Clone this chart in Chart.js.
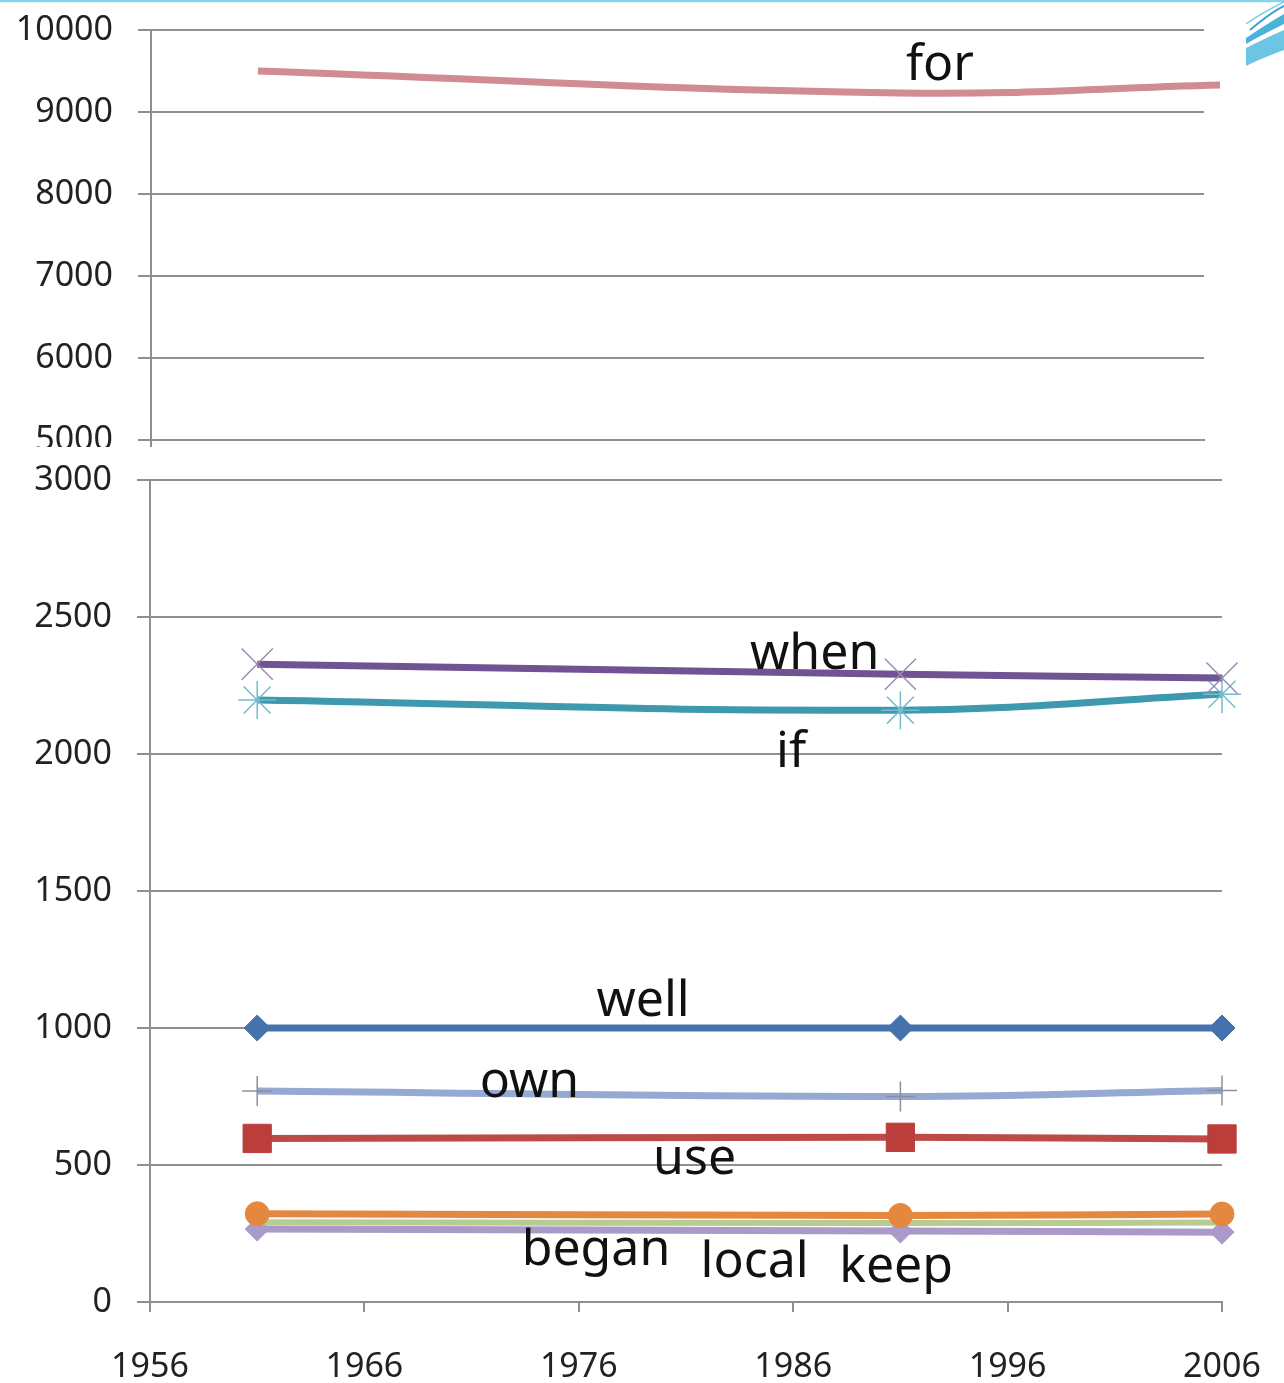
<!DOCTYPE html>
<html>
<head>
<meta charset="utf-8">
<script src="https://cdn.jsdelivr.net/npm/chart.js@4/dist/chart.umd.min.js"></script>
<style>
  html, body { margin: 0; padding: 0; background: #ffffff; }
  body { width: 1284px; height: 1383px; position: relative; overflow: hidden; }
  .pane { position: absolute; left: 0; }
  #topPane { top: 0; width: 1284px; height: 447px; }
  #bottomPane { top: 447px; width: 1284px; height: 936px; }
  #deco { position: absolute; left: 0; top: 0; pointer-events: none; }
</style>
</head>
<body>
<div class="pane" id="topPane"><canvas id="topChart" width="1284" height="447"></canvas></div>
<div class="pane" id="bottomPane"><canvas id="bottomChart" width="1284" height="936"></canvas></div>
<svg id="deco" width="1284" height="80" viewBox="0 0 1284 80">
  <line x1="0" y1="1" x2="1284" y2="1" stroke="#86d3ea" stroke-width="2.5"/>
  <path d="M1246 66 C1262 58 1274 54 1284 50 L1284 30 C1270 36 1258 42 1246 48 Z" fill="#6cc6e3"/>
  <path d="M1246 44 C1260 36 1272 30 1284 24 L1284 14 C1270 22 1258 30 1246 38 Z" fill="#4bb3d8"/>
  <path d="M1250 30 C1262 20 1272 12 1284 6" stroke="#3aa6d0" stroke-width="2" fill="none"/>
  <path d="M1246 24 C1260 14 1272 8 1284 2" stroke="#7fcbe6" stroke-width="1.5" fill="none"/>
</svg>
<script>
// Years sampled and word frequencies per year
const years = [1961, 1991, 2006];
const forValues   = [9500, 9232, 9329];
const whenValues  = [2328, 2291, 2277];
const ifValues    = [2197, 2160, 2218];
const wellValues  = [1000, 1000, 1000];
const ownValues   = [770, 750, 772];
const useValues   = [597, 601, 595];
const beganValues = [322, 316, 321];
const localValues = [291, 288, 290];
const keepValues  = [266, 259, 255];

// Axis ticks
const xTicks = [1956, 1966, 1976, 1986, 1996, 2006];
const topYTicks = [5000, 6000, 7000, 8000, 9000, 10000];
const bottomYTicks = [0, 500, 1000, 1500, 2000, 2500, 3000];

// Word labels placed in data units (year, baseline value)
const topWordLabels = [
  { text: 'for', year: 1992.9, value: 9390 }
];
const bottomWordLabels = [
  { text: 'when',  year: 1987.0, value: 2312 },
  { text: 'if',    year: 1985.9, value: 1953 },
  { text: 'well',  year: 1979.0, value: 1042 },
  { text: 'own',   year: 1973.7, value: 747 },
  { text: 'use',   year: 1981.4, value: 466 },
  { text: 'began', year: 1976.8, value: 135 },
  { text: 'local', year: 1984.2, value: 91 },
  { text: 'keep',  year: 1990.8, value: 73 }
];

const FONT = "'Noto Sans', 'Open Sans', sans-serif";
const GRID = '#8f8f8f';

const toPoints = (vals) => vals.map((v, i) => ({ x: years[i], y: v }));

// Draws the word next to each line
const wordLabelPlugin = {
  id: 'wordLabels',
  afterDatasetsDraw(chart, args, opts) {
    const { ctx, scales } = chart;
    ctx.save();
    ctx.font = '50px ' + FONT;
    ctx.fillStyle = '#111111';
    ctx.textAlign = 'center';
    ctx.textBaseline = 'alphabetic';
    (opts.items || []).forEach(item => {
      ctx.fillText(item.text, scales.x.getPixelForValue(item.year), scales.y.getPixelForValue(item.value));
    });
    ctx.restore();
  }
};

function lineSet(label, values, color, extra) {
  return Object.assign({
    label,
    data: toPoints(values),
    borderColor: color,
    backgroundColor: color,
    borderWidth: 7,
    tension: 0.4,
    pointRadius: 0,
    pointHoverRadius: 0,
    clip: false
  }, extra || {});
}

const yTickFont = { family: FONT, size: 34 };

// keep the plot edges where the layout padding puts them
const noEdgePadding = (s) => { s.paddingTop = 0; s.paddingBottom = 0; s.paddingLeft = 0; s.paddingRight = 0; };

// Upper panel: 5000 to 10000
new Chart(document.getElementById('topChart'), {
  type: 'line',
  data: {
    datasets: [
      lineSet('for', forValues, '#d08b93', { borderWidth: 7 })
    ]
  },
  options: {
    responsive: false,
    animation: false,
    events: [],
    layout: { padding: { top: 30, right: 80, bottom: 0, left: 0 } },
    plugins: {
      legend: { display: false },
      tooltip: { enabled: false },
      wordLabels: { items: topWordLabels }
    },
    scales: {
      x: {
        type: 'linear',
        min: 1956,
        max: 2005.25,
        afterBuildTicks: (s) => { s.ticks = [{ value: xTicks[0] }]; },
        ticks: { display: false },
        grid: { drawOnChartArea: false, tickLength: 7, color: GRID, lineWidth: 2 },
        border: { display: true, color: GRID, width: 2 },
        afterFit: (s) => { s.height = 7; noEdgePadding(s); }
      },
      y: {
        type: 'linear',
        min: 5000,
        max: 10000,
        afterBuildTicks: (s) => { s.ticks = topYTicks.map(v => ({ value: v })); },
        ticks: { font: yTickFont, color: '#222222', padding: 25, callback: (v) => String(v) },
        grid: { color: GRID, lineWidth: 2, tickLength: 13 },
        border: { display: true, color: GRID, width: 2 },
        afterFit: (s) => { s.width = 151; noEdgePadding(s); }
      }
    }
  },
  plugins: [wordLabelPlugin]
});

// Lower panel: 0 to 3000
new Chart(document.getElementById('bottomChart'), {
  type: 'line',
  data: {
    datasets: [
      lineSet('well', wellValues, '#4571ad', {
        pointStyle: 'rectRot', pointRadius: 13, pointBackgroundColor: '#4571ad', pointBorderColor: '#4571ad', pointBorderWidth: 1, order: 1
      }),
      lineSet('use', useValues, '#bd4a47', {
        pointStyle: 'rect', pointRadius: 20, pointBackgroundColor: '#bb3e3b', pointBorderColor: '#bb3e3b', pointBorderWidth: 1, order: 2
      }),
      lineSet('local', localValues, '#b8cb90', { borderWidth: 6, order: 4 }),
      lineSet('when', whenValues, '#6f5392', {
        pointStyle: 'crossRot', pointRadius: 22, pointBorderColor: '#9d8ab6', pointBorderWidth: 1.5, order: 5
      }),
      lineSet('if', ifValues, '#3e99ae', {
        pointStyle: 'star', pointRadius: 19, pointBorderColor: '#74bcce', pointBorderWidth: 1.5, order: 6
      }),
      lineSet('began', beganValues, '#e5883f', {
        pointStyle: 'circle', pointRadius: 12, pointBackgroundColor: '#e5883f', pointBorderColor: '#e5883f', pointBorderWidth: 1, order: 3
      }),
      lineSet('own', ownValues, '#95a9d2', {
        pointStyle: 'cross', pointRadius: 15, pointBorderColor: '#8c8f9e', pointBorderWidth: 1.5, order: 7
      }),
      lineSet('keep', keepValues, '#a99ac8', {
        pointStyle: 'rectRot', pointRadius: 12, pointBackgroundColor: '#a99ac8', pointBorderColor: '#a99ac8', pointBorderWidth: 1, order: 4
      })
    ]
  },
  options: {
    responsive: false,
    animation: false,
    events: [],
    layout: { padding: { top: 33, right: 62, bottom: 0, left: 0 } },
    plugins: {
      legend: { display: false },
      tooltip: { enabled: false },
      wordLabels: { items: bottomWordLabels }
    },
    scales: {
      x: {
        type: 'linear',
        min: xTicks[0],
        max: xTicks[xTicks.length - 1],
        afterBuildTicks: (s) => { s.ticks = xTicks.map(v => ({ value: v })); },
        ticks: { font: { family: FONT, size: 34 }, color: '#222222', padding: 35, maxRotation: 0, autoSkip: false, callback: (v) => String(v) },
        grid: { drawOnChartArea: false, tickLength: 10, color: GRID, lineWidth: 2 },
        border: { display: true, color: GRID, width: 2 },
        afterFit: (s) => { s.height = 81; noEdgePadding(s); }
      },
      y: {
        type: 'linear',
        min: 0,
        max: 3000,
        afterBuildTicks: (s) => { s.ticks = bottomYTicks.map(v => ({ value: v })); },
        ticks: { font: yTickFont, color: '#222222', padding: 25, callback: (v) => String(v) },
        grid: { color: GRID, lineWidth: 2, tickLength: 13 },
        border: { display: true, color: GRID, width: 2 },
        afterFit: (s) => { s.width = 150; noEdgePadding(s); }
      }
    }
  },
  plugins: [wordLabelPlugin]
});
</script>
</body>
</html>
